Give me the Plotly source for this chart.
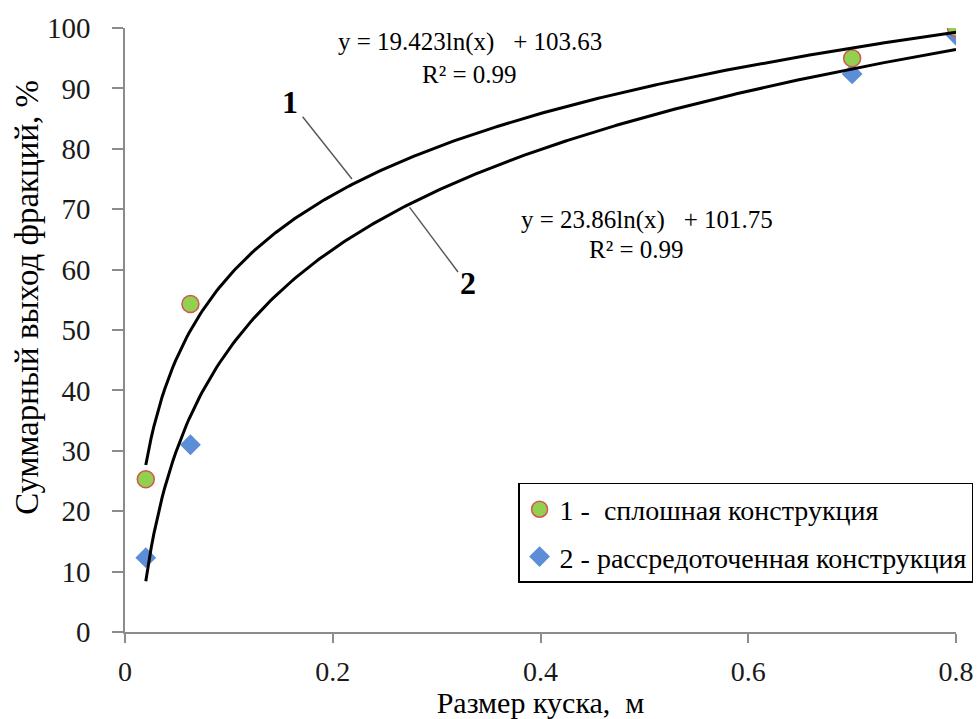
import numpy as np
import plotly.graph_objects as go

# ---- data ----
x1 = [0.02, 0.063, 0.70, 0.80]
y1 = [25.3, 54.3, 95.0, 100.0]
x2 = [0.02, 0.063, 0.70, 0.80]
y2 = [12.3, 31.0, 92.4, 98.8]

name1 = "1 -  сплошная конструкция"
name2 = "2 - рассредоточенная конструкция"

# trendline coefficients (as printed on the chart): y = a*ln(x) + b
a1, b1, r2_1 = 19.423, 103.63, 0.99
a2, b2, r2_2 = 23.86, 101.75, 0.99

x_ticks = [0, 0.2, 0.4, 0.6, 0.8]
x_tick_text = ["0", "0.2", "0.4", "0.6", "0.8"]
y_ticks = [0, 10, 20, 30, 40, 50, 60, 70, 80, 90, 100]

x_title = "Размер куска,  м"
y_title = "Суммарный выход фракций, %"

FONT = "Liberation Serif"

xt = np.linspace(min(x1), max(x1), 300)
yt1 = a1 * np.log(xt) + b1
yt2 = a2 * np.log(xt) + b2

fig = go.Figure()

fig.add_trace(go.Scatter(
    x=x2, y=y2, mode="markers", name=name2, legendgroup="g2", legendrank=2,
    marker=dict(symbol="diamond", size=16, color="#5B8ED6", line=dict(width=0)),
))
fig.add_trace(go.Scatter(
    x=x1, y=y1, mode="markers", name=name1, legendgroup="g1", legendrank=1,
    marker=dict(symbol="circle", size=17, color="#92D050",
                line=dict(width=1.5, color="#D0584F")),
))
fig.add_trace(go.Scatter(x=xt, y=yt1, mode="lines", showlegend=False,
                         line=dict(color="black", width=3), hoverinfo="skip"))
fig.add_trace(go.Scatter(x=xt, y=yt2, mode="lines", showlegend=False,
                         line=dict(color="black", width=3), hoverinfo="skip"))

eq1 = f"y = {a1}ln(x)   + {b1}"
eq2 = f"y = {a2}ln(x)   + {b2}"

annots = [
    dict(x=0.332, y=97.7, text=eq1, font=dict(size=25)),
    dict(x=0.332, y=92.3, text=f"R² = {r2_1}", font=dict(size=25)),
    dict(x=0.5025, y=68.2, text=eq2, font=dict(size=25)),
    dict(x=0.492, y=63.3, text=f"R² = {r2_2}", font=dict(size=25)),
    dict(x=0.159, y=87.8, text="<b>1</b>", font=dict(size=32)),
    dict(x=0.330, y=57.8, text="<b>2</b>", font=dict(size=32)),
]
for an in annots:
    an.update(xref="x", yref="y", showarrow=False)
    an["font"].update(family=FONT, color="black")

# y-axis title placed as rotated annotation (offset above centre as in original)
annots.append(dict(
    xref="paper", yref="paper", x=-0.118, y=0.555, xanchor="center", yanchor="middle",
    text=y_title, textangle=-90, showarrow=False,
    font=dict(family=FONT, size=33, color="black"),
))

shapes = [
    dict(type="line", xref="x", yref="y", x0=0.171, y0=85.3, x1=0.2185, y1=75.0,
         line=dict(color="#555555", width=1.4)),
    dict(type="line", xref="x", yref="y", x0=0.274, y0=70.3, x1=0.3206, y1=59.6,
         line=dict(color="#555555", width=1.4)),
]

fig.update_layout(
    template="none",
    width=977, height=719,
    margin=dict(l=125, r=21, t=28, b=87, autoexpand=False),
    paper_bgcolor="white", plot_bgcolor="white",
    font=dict(family=FONT, color="black", size=27),
    annotations=annots, shapes=shapes,
    legend=dict(
        x=0.473, y=0.2467, xanchor="left", yanchor="top",
        bgcolor="white", bordercolor="black", borderwidth=1.5,
        font=dict(family=FONT, size=28, color="black"),
        traceorder="grouped", tracegroupgap=8,
        entrywidth=440, entrywidthmode="pixels",
    ),
    xaxis=dict(
        range=[0, 0.8], tickvals=x_ticks, ticktext=x_tick_text, automargin=False,
        showgrid=False, zeroline=False, showline=True, linecolor="#8c8c8c", linewidth=1.5,
        ticks="outside", ticklen=9, tickcolor="#8c8c8c", tickwidth=1.5,
        tickfont=dict(size=28, family=FONT, color="#1a1a1a"),
        ticklabelstandoff=5, ticklabeloverflow="allow",
        title=dict(text=x_title, font=dict(size=30, family=FONT), standoff=2),
    ),
    yaxis=dict(
        range=[0, 100], tickvals=y_ticks, automargin=False,
        showgrid=False, zeroline=False, showline=True, linecolor="#8c8c8c", linewidth=1.5,
        ticks="outside", ticklen=11, tickcolor="#8c8c8c", tickwidth=1.5,
        tickfont=dict(size=29, family=FONT, color="#1a1a1a"),
        ticklabelstandoff=16, ticklabeloverflow="allow",
    ),
)

fig.write_html("out.html", config={"displayModeBar": False},
               post_script="document.body.style.margin='0px';")
